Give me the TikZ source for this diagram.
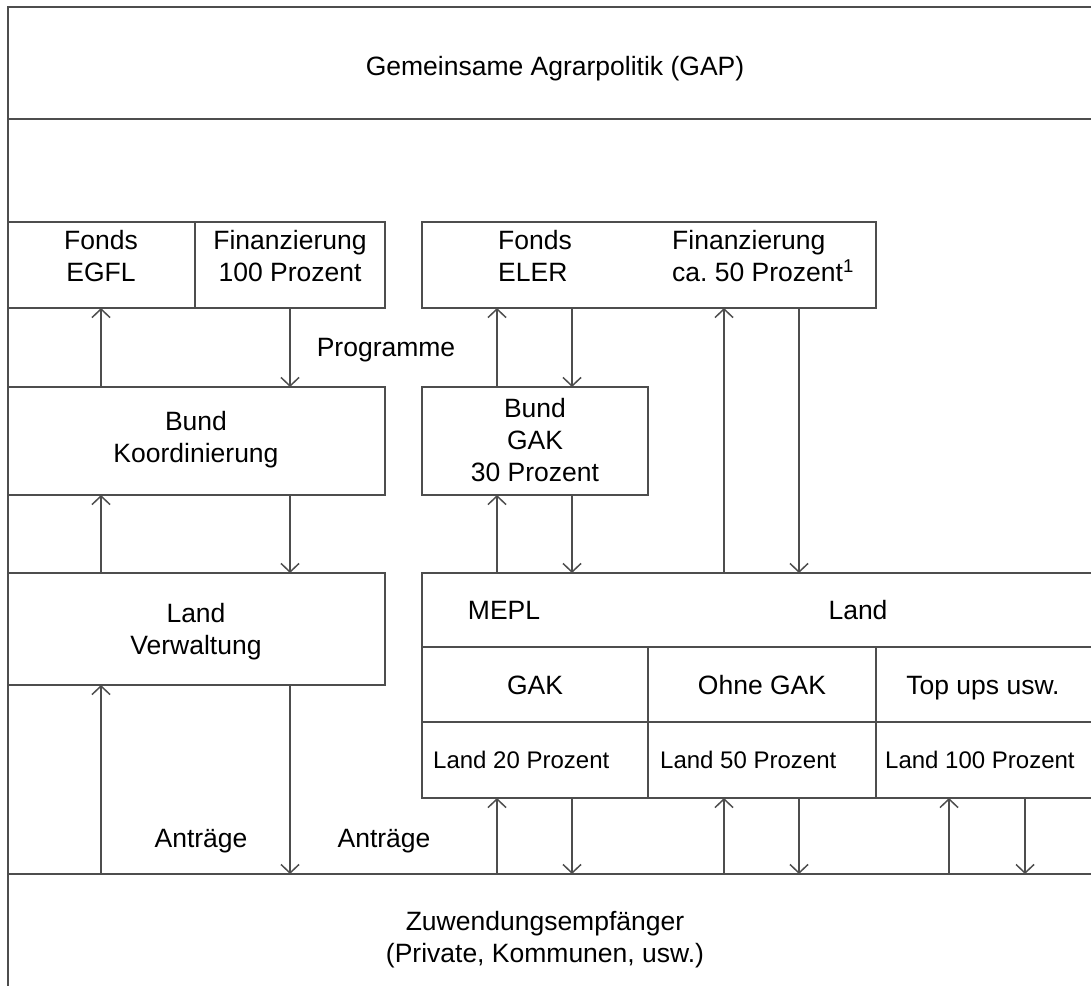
\documentclass[tikz,border=0pt]{standalone}
\usepackage{fontspec}
\setmainfont{Liberation Sans}
\usetikzlibrary{arrows.meta}
\definecolor{lc}{HTML}{4D4D4D}
\begin{document}
\begin{tikzpicture}[x=1pt,y=-1pt,
  line/.style={draw=lc, line width=1.5pt},
  box/.style={line, rectangle, inner sep=0pt, outer sep=0pt, anchor=north west},
  txt/.style={font=\fontsize{26.5}{32}\selectfont, align=center, inner sep=0pt},
  stxt/.style={font=\fontsize{24}{28}\selectfont, inner sep=0pt, anchor=base west},
  arr/.style={line, -{Straight Barb[length=8.5pt,width=18pt]}}]
\useasboundingbox (0,0) rectangle (1091,985);
% frame and top band
\node[box, minimum width=1100pt, minimum height=990pt] (frame) at (8,7) {};
\node[box, minimum width=1100pt, minimum height=112pt] (gapbox) at (8,7) {};
\node[txt] (gap) at (555,69) {Gemeinsame Agrarpolitik (GAP)};
% EGFL
\node[box, minimum width=187pt, minimum height=86pt] (egfl) at (8,222) {};
\node[box, minimum width=190pt, minimum height=86pt] (fin1) at (195,222) {};
\node[txt] (egflt) at (101,256) {Fonds\\EGFL};
\node[txt] (fin1t) at (290,256) {Finanzierung\\100 Prozent};
% ELER
\node[box, minimum width=454pt, minimum height=86pt] (eler) at (422,222) {};
\node[txt, align=left, anchor=west] (elert) at (498,256) {Fonds\\ELER};
\node[txt, align=left, anchor=west] (fin2t) at (672,256) {Finanzierung\\ca.\ 50 Prozent\textsuperscript{1}};
% Bund
\node[box, minimum width=377pt, minimum height=108pt] (bund) at (8,387) {};
\node[txt] (bundt) at (196,440) {Bund\\Koordinierung};
\node[box, minimum width=226pt, minimum height=108pt] (bgak) at (422,387) {};
\node[txt] (bgakt) at (535,440) {Bund\\GAK\\30 Prozent};
% Land
\node[box, minimum width=377pt, minimum height=112pt] (landv) at (8,573) {};
\node[txt] (landvt) at (196,632) {Land\\Verwaltung};
\node[box, minimum width=678pt, minimum height=74pt] (mepl) at (422,573) {};
\node[txt, anchor=base] (meplt) at (504,619.5) {MEPL};
\node[txt, anchor=base] (landt) at (858,619.5) {Land};
\node[box, minimum width=226pt, minimum height=75pt] (gak) at (422,647) {};
\node[box, minimum width=228pt, minimum height=75pt] (ohne) at (648,647) {};
\node[box, minimum width=224pt, minimum height=75pt] (topups) at (876,647) {};
\node[txt, anchor=base] (gakt) at (535,694.5) {GAK};
\node[txt, anchor=base] (ohnet) at (762,694.5) {Ohne GAK};
\node[txt, anchor=base] (topupst) at (983,694.5) {Top ups usw.};
\node[box, minimum width=226pt, minimum height=76pt] (l20) at (422,722) {};
\node[box, minimum width=228pt, minimum height=76pt] (l50) at (648,722) {};
\node[box, minimum width=224pt, minimum height=76pt] (l100) at (876,722) {};
\node[stxt] (l20t) at (433,768.5) {Land 20 Prozent};
\node[stxt] (l50t) at (660,768.5) {Land 50 Prozent};
\node[stxt] (l100t) at (885,768.5) {Land 100 Prozent};
% Zuwendungsempfaenger
\node[box, minimum width=1100pt, minimum height=200pt] (zuw) at (8,874) {};
\node[txt] (zuwt) at (545,940) {Zuwendungsempf\"anger\\(Private, Kommunen, usw.)};
% labels
\node[txt] (prog) at (386,350) {Programme};
\node[txt] (antr1) at (201,841) {Antr\"age};
\node[txt] (antr2) at (384,841) {Antr\"age};
% columns
\coordinate (xa) at (101,0);
\coordinate (xb) at (290,0);
\coordinate (xc) at (497,0);
\coordinate (xd) at (572,0);
\coordinate (xe) at (724,0);
\coordinate (xf) at (799,0);
\coordinate (xg) at (949,0);
\coordinate (xh) at (1025,0);
% arrows
\draw[arr] (bund.north -| xa) -- (egfl.south -| xa);
\draw[arr] (fin1.south -| xb) -- (bund.north -| xb);
\draw[arr] (bgak.north -| xc) -- (eler.south -| xc);
\draw[arr] (eler.south -| xd) -- (bgak.north -| xd);
\draw[arr] (mepl.north -| xe) -- (eler.south -| xe);
\draw[arr] (eler.south -| xf) -- (mepl.north -| xf);
\draw[arr] (landv.north -| xa) -- (bund.south -| xa);
\draw[arr] (bund.south -| xb) -- (landv.north -| xb);
\draw[arr] (mepl.north -| xc) -- (bgak.south -| xc);
\draw[arr] (bgak.south -| xd) -- (mepl.north -| xd);
\draw[arr] (zuw.north -| xa) -- (landv.south -| xa);
\draw[arr] (landv.south -| xb) -- (zuw.north -| xb);
\draw[arr] (zuw.north -| xc) -- (l20.south -| xc);
\draw[arr] (l20.south -| xd) -- (zuw.north -| xd);
\draw[arr] (zuw.north -| xe) -- (l50.south -| xe);
\draw[arr] (l50.south -| xf) -- (zuw.north -| xf);
\draw[arr] (zuw.north -| xg) -- (l100.south -| xg);
\draw[arr] (l100.south -| xh) -- (zuw.north -| xh);
\end{tikzpicture}
\end{document}
